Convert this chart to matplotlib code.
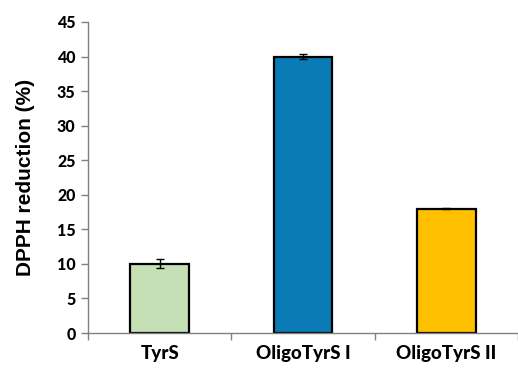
import matplotlib
matplotlib.use("Agg")
import matplotlib.pyplot as plt
import matplotlib.ticker as ticker

# ── Data ──────────────────────────────────────────────────────────────────────
samples = ["TyrS", "OligoTyrS I", "OligoTyrS II"]
dpph_reduction = [10.0, 40.0, 18.0]
dpph_err = [0.65, 0.3, 0.1]
bar_colors = ["#C5E0B4", "#0A7BB5", "#FFC000"]

axis_grey = "#808080"

# ── Plot ──────────────────────────────────────────────────────────────────────
fig = plt.figure(figsize=(5.18, 3.70), dpi=100)
ax = fig.add_axes([88 / 518, 1 - 333 / 370, 1 - 88 / 518, 311 / 370])

x = range(len(samples))
ax.bar(x, dpph_reduction, width=0.41, color=bar_colors,
       edgecolor="black", linewidth=1.6, zorder=2)
ax.errorbar(x, dpph_reduction, yerr=dpph_err, fmt="none",
            ecolor="black", elinewidth=1.0, capsize=3, capthick=1.0, zorder=3)

ax.set_ylim(0, 45)
ax.set_xlim(-0.5, 2.455)
ax.yaxis.set_major_locator(ticker.MultipleLocator(5))

# category boundaries carry the ticks, names sit at the centres
ax.set_xticks([-0.5, 0.5, 1.5, 2.5])
ax.set_xticklabels([])
ax.set_xticks(list(x), minor=True)
ax.set_xticklabels(samples, minor=True, fontfamily="Lato",
                   fontweight=900, fontsize=13.5)
ax.tick_params(axis="x", which="minor", length=0, pad=9)
ax.tick_params(axis="x", which="major", length=5, width=1, color=axis_grey)
ax.tick_params(axis="y", length=5, width=1, color=axis_grey, pad=4)
for lab in ax.get_yticklabels():
    lab.set_fontfamily("Lato")
    lab.set_fontweight(900)
    lab.set_fontsize(11.5)

ax.set_ylabel("DPPH reduction (%)", fontfamily="Liberation Sans",
              fontweight="bold", fontsize=15, labelpad=16)

ax.spines[["top", "right"]].set_visible(False)
for side in ["left", "bottom"]:
    ax.spines[side].set_color(axis_grey)
    ax.spines[side].set_linewidth(1)

fig.savefig("out.png", dpi=100)
